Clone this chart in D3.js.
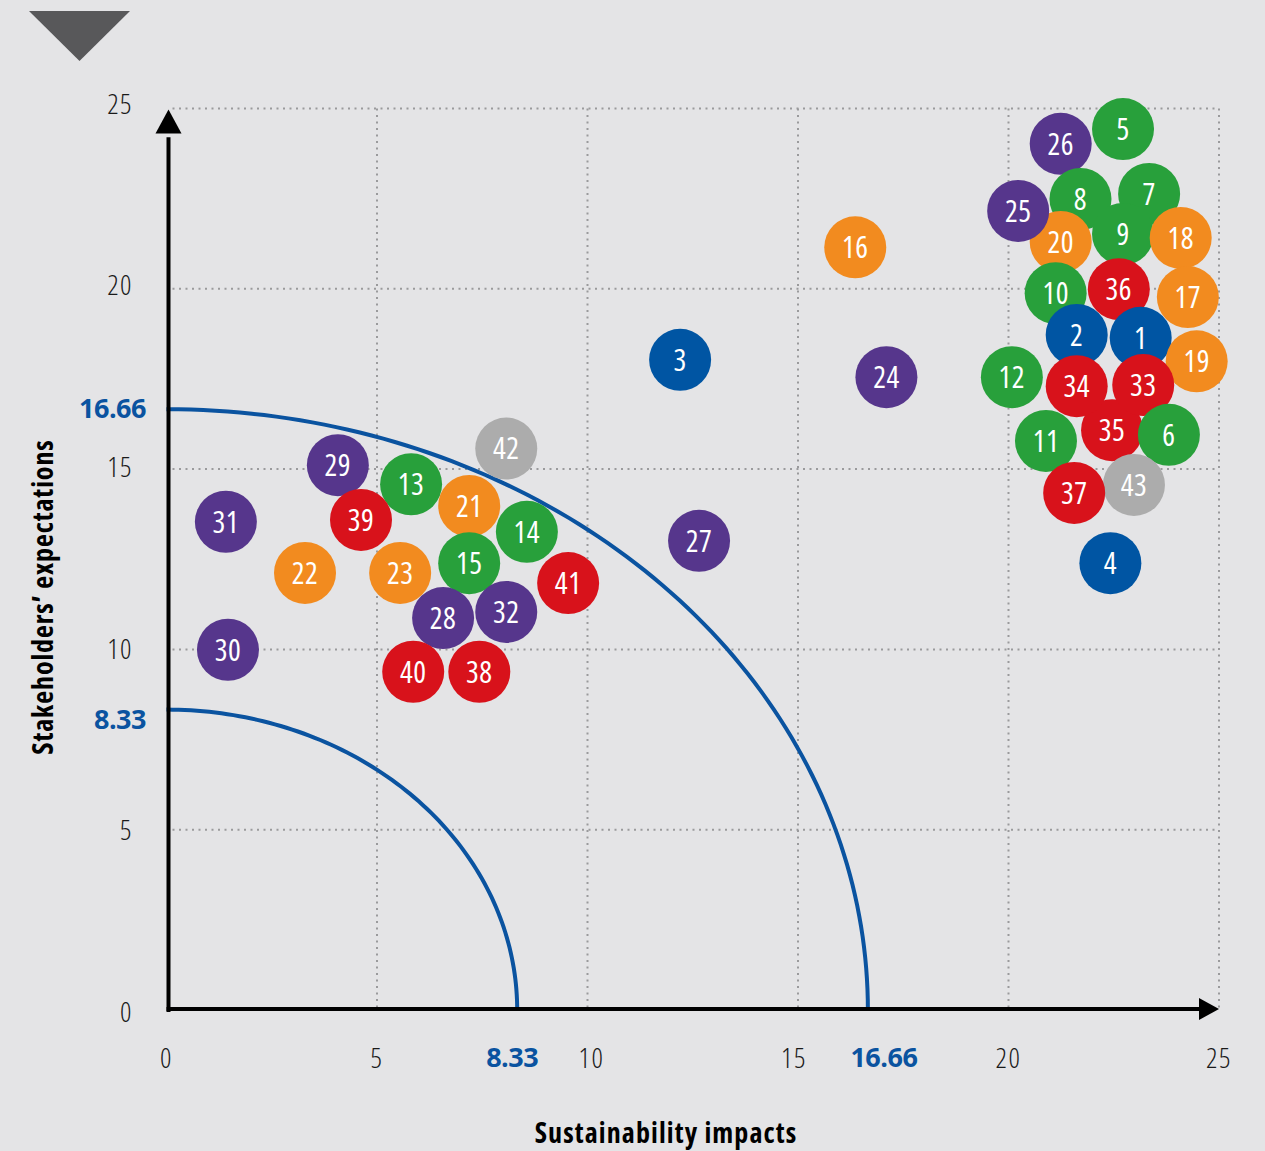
<!DOCTYPE html>
<html>
<head>
<meta charset="utf-8">
<script src="https://cdn.jsdelivr.net/npm/d3@7"></script>
<style>
  html, body { margin: 0; padding: 0; background: #e4e4e6; }
  svg { display: block; }
  text { font-family: "Open Sans", sans-serif; font-stretch: 75%; }
</style>
</head>
<body>
<svg id="chart" width="1265" height="1151"></svg>
<script>
// Material topics: id, sustainability impact (x), stakeholders' expectation (y), group
const topicIds = [1, 2, 3, 4, 5, 6, 7, 8, 9, 10, 11, 12, 13, 14, 15, 16, 17, 18, 19, 20, 21, 22,
                  23, 24, 25, 26, 27, 28, 29, 30, 31, 32, 33, 34, 35, 36, 37, 38, 39, 40, 41, 42, 43];
const impactValues = [23.14, 21.62, 12.2, 22.42, 22.72, 23.81, 23.34, 21.71, 22.72, 21.12, 20.89, 20.08,
                      5.81, 8.56, 7.19, 16.36, 24.26, 24.09, 24.47, 21.24, 7.19, 3.29,
                      5.55, 17.1, 20.23, 21.24, 12.65, 6.57, 4.07, 1.46, 1.41, 8.07,
                      23.2, 21.62, 22.46, 22.62, 21.56, 7.43, 4.62, 5.86, 9.54, 8.07, 22.98];
const expectationValues = [18.64, 18.72, 18.03, 12.39, 24.43, 15.95, 22.63, 22.49, 21.52, 19.88, 15.78, 17.55,
                           14.58, 13.26, 12.39, 21.15, 19.77, 21.41, 17.99, 21.3, 13.98, 12.12,
                           12.12, 17.55, 22.16, 24.02, 13.01, 10.87, 15.11, 9.99, 13.54, 11.04,
                           17.33, 17.3, 16.08, 19.99, 14.34, 9.38, 13.59, 9.38, 11.84, 15.57, 14.56];
const topicGroups = ["blue", "blue", "blue", "blue", "green", "green", "green", "green", "green", "green", "green", "green",
                     "green", "green", "green", "orange", "orange", "orange", "orange", "orange", "orange", "orange",
                     "orange", "purple", "purple", "purple", "purple", "purple", "purple", "purple", "purple", "purple",
                     "red", "red", "red", "red", "red", "red", "red", "red", "red", "grey", "grey"];

// Stacking order of the bubbles, bottom to top
const stackOrder = [5, 26, 7, 8, 20, 25, 9, 18, 36, 10, 17, 1, 2, 19, 12, 35, 34, 33, 6, 11, 43, 37, 4,
                    16, 3, 24, 27, 29, 13, 39, 31, 42, 21, 15, 14, 23, 22, 28, 32, 41, 30, 40, 38];

// Axis ticks and materiality thresholds
const axisTicks = [0, 5, 10, 15, 20, 25];
const thresholds = [8.33, 16.66];
const thresholdLabels = ["8.33", "16.66"];

const groupColors = {
  blue: "#0055a3",
  green: "#28a03b",
  orange: "#f28b1f",
  purple: "#56368c",
  red: "#d8121b",
  grey: "#acacac"
};

const svg = d3.select("#chart");
const x = d3.scaleLinear().domain([0, 25]).range([166.5, 1219]);
const y = d3.scaleLinear().domain([0, 25]).range([1010, 108.5]);
// vertical placement of the y tick captions
const yLabel = d3.scaleLinear().domain([0, 25]).range([1012, 104]);

// Section marker
svg.append("path")
  .attr("d", "M29,11 L130,11 L79.5,61 Z")
  .attr("fill", "#58585a");

// Dotted grid
const grid = svg.append("g").attr("stroke", "#9a9a9c").attr("stroke-width", 2)
  .attr("stroke-dasharray", "2,4.5").attr("fill", "none");
axisTicks.filter(d => d > 0).forEach(v => {
  grid.append("line").attr("x1", x(v)).attr("x2", x(v)).attr("y1", y(25)).attr("y2", y(0));
  grid.append("line").attr("x1", x(0) + 6).attr("x2", x(25)).attr("y1", y(v)).attr("y2", y(v));
});

// Threshold arcs (quarter ellipses in pixel space)
const arcColor = "#0a53a0";
const arcLine = d3.line().x(d => x(d[0])).y(d => y(d[1]));
thresholds.forEach(r => {
  const pts = d3.range(0, 91).map(a => {
    const t = a * Math.PI / 180;
    return [r * Math.sin(t), r * Math.cos(t)];
  });
  svg.append("path")
    .attr("d", arcLine(pts))
    .attr("fill", "none")
    .attr("stroke", arcColor)
    .attr("stroke-width", 4);
});

// Axes with arrow heads
const axisG = svg.append("g");
axisG.append("line").attr("x1", x(0) + 2).attr("x2", x(0) + 2).attr("y1", y(0) + 2).attr("y2", y(24.2))
  .attr("stroke", "#000").attr("stroke-width", 4);
axisG.append("line").attr("x1", x(0)).attr("x2", x(24.6)).attr("y1", y(0) - 1).attr("y2", y(0) - 1)
  .attr("stroke", "#000").attr("stroke-width", 4);
axisG.append("path")
  .attr("d", `M${x(0) + 2},${y(25) + 1} L${x(0) + 2 + 13},${y(25) + 25} L${x(0) + 2 - 13},${y(25) + 25} Z`)
  .attr("fill", "#000");
axisG.append("path")
  .attr("d", `M${x(25)},${y(0) - 1} L${x(25) - 20},${y(0) - 1 - 11} L${x(25) - 20},${y(0) - 1 + 11} Z`)
  .attr("fill", "#000");

// Tick labels
const tickFont = 28;
svg.append("g").selectAll("text").data(axisTicks).join("text")
  .attr("x", 133).attr("y", d => yLabel(d)).attr("dy", "0.35em")
  .attr("text-anchor", "end").attr("font-size", tickFont).attr("font-weight", 300)
  .attr("letter-spacing", 1.5).attr("fill", "#1a1a1a")
  .text(d => d);
svg.append("g").selectAll("text").data(axisTicks).join("text")
  .attr("x", d => x(d) + (d === 10 ? 4 : d === 15 ? -4 : 0)).attr("y", 1058).attr("dy", "0.35em")
  .attr("text-anchor", "middle").attr("font-size", tickFont).attr("font-weight", 300)
  .attr("letter-spacing", 1.5).attr("fill", "#1a1a1a")
  .text(d => d);

// Threshold labels
svg.append("g").selectAll("text").data(thresholds).join("text")
  .attr("x", 146).attr("y", d => y(d) + (d < 10 ? 10 : -1)).attr("dy", "0.35em")
  .attr("text-anchor", "end").attr("font-size", 27).attr("font-weight", "bold")
  .style("font-stretch", "100%").attr("letter-spacing", -0.5).attr("fill", arcColor)
  .text((d, i) => thresholdLabels[i]);
svg.append("g").selectAll("text").data(thresholds).join("text")
  .attr("x", d => x(d) + (d > 10 ? 16 : -5)).attr("y", 1058).attr("dy", "0.35em")
  .attr("text-anchor", "middle").attr("font-size", 27).attr("font-weight", "bold")
  .style("font-stretch", "100%").attr("letter-spacing", -0.5).attr("fill", arcColor)
  .text((d, i) => thresholdLabels[i]);

// Axis titles
svg.append("text")
  .attr("x", 666).attr("y", 1133).attr("dy", "0.35em")
  .attr("text-anchor", "middle").attr("font-size", 28).attr("font-weight", "bold")
  .attr("letter-spacing", 1.1).attr("fill", "#000")
  .text("Sustainability impacts");
svg.append("text")
  .attr("transform", "translate(43,597) rotate(-90)").attr("dy", "0.35em")
  .attr("text-anchor", "middle").attr("font-size", 28).attr("font-weight", "bold")
  .attr("letter-spacing", 0.9).attr("fill", "#000")
  .text("Stakeholders\u2019 expectations");

// Bubbles
const topics = topicIds.map((id, i) => ({
  id, impact: impactValues[i], expectation: expectationValues[i], group: topicGroups[i]
}));
topics.sort((a, b) => stackOrder.indexOf(a.id) - stackOrder.indexOf(b.id));

const bubbles = svg.append("g").selectAll("g").data(topics).join("g")
  .attr("transform", d => `translate(${x(d.impact)},${y(d.expectation)})`);
bubbles.append("circle")
  .attr("r", 31)
  .attr("fill", d => groupColors[d.group]);
bubbles.append("text")
  .attr("text-anchor", "middle").attr("dy", "0.36em")
  .attr("font-size", 30).attr("font-weight", 400).attr("letter-spacing", 0.5).attr("fill", "#fff")
  .text(d => d.id);
</script>
</body>
</html>
